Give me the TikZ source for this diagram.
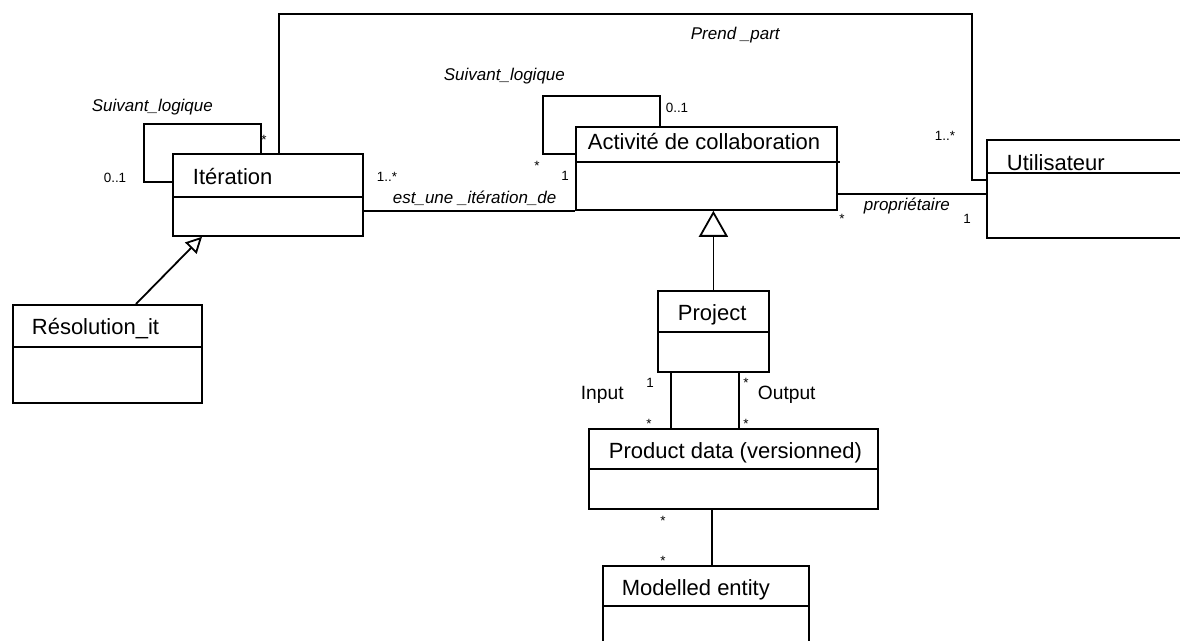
\documentclass[tikz,border=0pt]{standalone}
\usepackage{fontspec}
\setmainfont{Liberation Sans}
\usetikzlibrary{positioning,arrows.meta,calc}

\begin{document}
\begin{tikzpicture}[x=0.5pt, y=-0.5pt, line width=0.9pt,
  classbox/.style={draw, rectangle, anchor=north west, inner sep=0pt},
  cname/.style={anchor=base west, inner sep=0pt, font=\fontsize{11}{13}\selectfont},
  role/.style={anchor=base west, inner sep=0pt, font=\fontsize{8.5}{10}\selectfont\itshape},
  mult/.style={anchor=base, inner sep=0pt, font=\fontsize{6.7}{8}\selectfont},
  io/.style={anchor=base west, inner sep=0pt, font=\fontsize{9.6}{11}\selectfont},
  gen/.style={-{Triangle[open, length=8pt, width=8pt]}},
  bigGen/.style={-{Triangle[open, length=13pt, width=14.5pt]}}]
\useasboundingbox (0,0) rectangle (1180,641);
% class boxes (1 unit = 1 px of the 1180x641 frame)
\node[classbox, minimum width=95pt,  minimum height=41pt]   (iter) at (172,153) {};
\node[classbox, minimum width=130.5pt, minimum height=41.5pt] (act) at (575,126) {};
\node[classbox, minimum width=100pt, minimum height=49pt]   (util) at (986,139) {};
\node[classbox, minimum width=94.5pt, minimum height=49pt]  (res)  at (12,304) {};
\node[classbox, minimum width=55.5pt, minimum height=40.5pt] (proj) at (657,290) {};
\node[classbox, minimum width=144.5pt, minimum height=40pt] (prod) at (588,428) {};
\node[classbox, minimum width=103pt, minimum height=42pt]   (ment) at (602,565) {};
% compartment lines
\draw ($(iter.north west)+(0,44)$) -- ($(iter.north east)+(0,44)$);
\draw ($(act.north west)+(0,36)$) -- ($(act.north east)+(2,36)$);
\draw ($(util.north west)+(0,34)$) -- ($(util.north east)+(0,34)$);
\draw ($(res.north west)+(0,43)$) -- ($(res.north east)+(0,43)$);
\draw ($(proj.north west)+(0,42)$) -- ($(proj.north east)+(0,42)$);
\draw ($(prod.north west)+(0,41)$) -- ($(prod.north east)+(0,41)$);
\draw ($(ment.north west)+(0,41)$) -- ($(ment.north east)+(0,41)$);
% class names
\node[cname] (iterT) at (192,185) {Itération};
\node[cname] (actT)  at (587,150) {Activité de collaboration};
\node[cname] (utilT) at (1006,171) {Utilisateur};
\node[cname] (resT)  at (31,335) {Résolution\_it};
\node[cname] (projT) at (677,321) {Project};
\node[cname] (prodT) at (608,459) {Product data (versionned)};
\node[cname] (mentT) at (621,596) {Modelled entity};
% self associations
\draw ($(iter.north west)+(89,0)$) |- ++(-117,-29) |- ($(iter.north west)+(0,29)$);
\draw ($(act.north west)+(85,0)$) |- ++(-117,-30) |- ($(act.north west)+(0,28)$);
% Prend _part
\coordinate (ppCorner) at (972,14);
\draw ($(iter.north west)+(107,0)$) |- (ppCorner) |- ($(util.north west)+(0,41)$);
% est_une _itération_de
\draw (iter.east |- act.south) -- (act.south west);
% propriétaire
\coordinate (propA) at ($(act.north east)+(0,68)$);
\draw (propA) -- (propA -| util.west);
% generalisations
\draw[gen] ($(res.north west)+(124,0)$) -- ($(iter.south west)+(30,0)$);
\draw[bigGen] (proj.north) -- (proj.north |- act.south);
% Input / Output
\coordinate (inA) at ($(proj.south west)+(14,0)$);
\coordinate (outA) at ($(proj.south west)+(82,0)$);
\draw (inA) -- (inA |- prod.north);
\draw (outA) -- (outA |- prod.north);
% product data -- modelled entity
\coordinate (meA) at ($(ment.north west)+(110,0)$);
\draw (meA) -- (meA |- prod.south);
% role names
\node[role] (sl1) at (91,112) {Suivant\_logique};
\node[role] (sl2) at (443,81) {Suivant\_logique};
\node[role] (pp)  at (690,40) {Prend \_part};
\node[role] (eid) at (392,204) {est\_une \_itération\_de};
\node[role] (own) at (863,211) {propriétaire};
\node[io] (inL)  at (580,400) {Input};
\node[io] (outL) at (757,400) {Output};
% multiplicities
\node[mult] (m1)  at (264,145) {*};
\node[mult] (m2)  at (115,183) {0..1};
\node[mult] (m3)  at (387,182) {1..*};
\node[mult] (m4)  at (677,113) {0..1};
\node[mult] (m5)  at (537,171) {*};
\node[mult] (m6)  at (565,181) {1};
\node[mult] (m7)  at (842,224) {*};
\node[mult] (m8)  at (967,224) {1};
\node[mult] (m9)  at (945,141) {1..*};
\node[mult] (m10) at (650,388) {1};
\node[mult] (m11) at (649,429) {*};
\node[mult] (m12) at (746,388) {*};
\node[mult] (m13) at (746,429) {*};
\node[mult] (m14) at (663,526) {*};
\node[mult] (m15) at (663,566) {*};
\end{tikzpicture}
\end{document}
